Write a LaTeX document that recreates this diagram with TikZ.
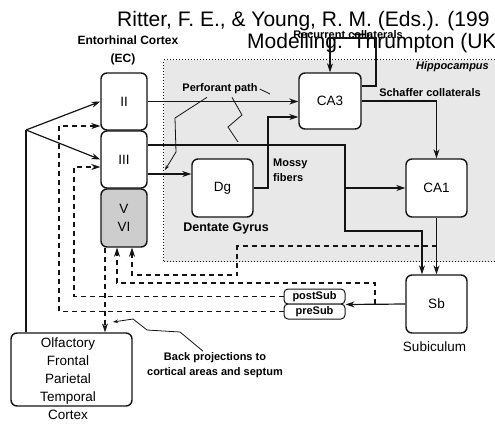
\documentclass[tikz,border=0pt]{standalone}
\usepackage{fontspec}
\setmainfont{Liberation Sans}
\usetikzlibrary{arrows.meta,positioning,calc}
\definecolor{inkgray}{RGB}{20,20,20}
\definecolor{hipgray}{RGB}{232,232,232}
\definecolor{layergray}{RGB}{205,205,205}
\tikzset{
  box/.style    ={rectangle, rounded corners=6pt, draw=inkgray, line width=1.4pt, fill=white,
                  inner sep=0pt, align=center, font=\fontsize{13.5}{18}\selectfont},
  ecbox/.style  ={box, minimum width=46pt, minimum height=57pt},
  hbox/.style   ={box, minimum width=61pt, minimum height=58pt},
  subbox/.style ={box, rounded corners=4pt, line width=1pt, minimum width=61pt,
                  minimum height=15pt, font=\bfseries\fontsize{11}{12}\selectfont},
  region/.style ={rectangle, draw=inkgray, dotted, line width=1pt, fill=hipgray, inner sep=0pt},
  flow/.style   ={-{Stealth[length=9pt,width=6pt]}, line width=1.2pt, draw=inkgray},
  wire/.style   ={line width=1.2pt, draw=inkgray},
  back/.style   ={-{Stealth[length=9pt,width=6pt]}, line width=1.2pt, draw=inkgray,
                  dash pattern=on 5pt off 4pt},
  pointer/.style={line width=0.8pt, draw=inkgray},
  lbl/.style    ={font=\bfseries\fontsize{11}{15}\selectfont, inner sep=1pt, align=center},
  tag/.style    ={font=\fontsize{13.5}{18}\selectfont, inner sep=0pt, align=center},
  titletxt/.style={font=\fontsize{21}{22}\selectfont, inner sep=0pt, anchor=base west}
}
\begin{document}
\begin{tikzpicture}[x=1pt, y=-1pt]
\useasboundingbox (0,0) rectangle (495,424);
\clip (0,0) rectangle (495,424);
% hippocampus area
\node[region, anchor=north west, minimum width=345pt, minimum height=202pt] (hip) at (163,59) {};
\node[lbl, font=\bfseries\itshape\fontsize{11}{13}\selectfont, anchor=east] (hiplbl) at (490,67) {Hippocampus};

\node[titletxt] (ttl1) at (117,26) {Ritter, F. E., \& Young, R. M. (Eds.). (199};
\node[titletxt] (ttl2) at (247,48) {Modelling.\hspace{10pt}Thrumpton (UK};

% entorhinal cortex
\node[lbl, font=\bfseries\fontsize{12}{14}\selectfont] (ec) at (128,40) {Entorhinal Cortex};
\node[lbl, font=\bfseries\fontsize{12}{14}\selectfont] (eclbl) at (123,59) {(EC)};
\node[ecbox] (ecII) at (124,101.5) {II};
\node[ecbox] (ecIII) at (124,159.5) {III};
\node[ecbox, minimum height=58pt, fill=layergray] (ecV) at (124,218) {V\\VI};

\node[hbox] (dg) at (222.5,188) {Dg};
\node[lbl, font=\bfseries\fontsize{12.5}{14}\selectfont] (dglbl) at (226,228) {Dentate Gyrus};
\node[hbox, minimum width=62pt, minimum height=56pt] (ca3) at (330,101) {CA3};
\node[hbox] (ca1) at (436.5,188) {CA1};
\node[hbox] (sb) at (436.5,304) {Sb};
\node[tag] (sblbl) at (434.5,347) {Subiculum};
\node[subbox] (post) at (314.5,296.5) {postSub};
\node[subbox] (pre) at (314.5,311.5) {preSub};

\node[box, minimum width=121pt, minimum height=73pt] (ctx) at (71.5,369.5) {};
\node[tag] (ctxtxt) at (68,379) {Olfactory\\Frontal\\Parietal\\Temporal\\Cortex};

% labels
\node[lbl] (pp) at (220,89) {Perforant path};
\node[lbl] (sc) at (430,93) {Schaffer collaterals};
\node[lbl] (rc) at (348,35) {Recurrent collaterals};
\node[lbl, align=left, anchor=west] (mf) at (272,170.5) {Mossy\\fibers};
\node[lbl] (bp) at (215,365) {Back projections to\\cortical areas and septum};

% bends
\coordinate (fan) at (26,130);
\coordinate (ppbend) at (345,145);
\coordinate (sbin) at (422,231);
\coordinate (dgin) at ($(dg.west)+(0,-14)$);
\coordinate (mossy) at (268,188);
\coordinate (recur) at (376,38);
\coordinate (sbback) at (375,283);
\coordinate (ca1back) at (237,246);
\coordinate (ca1low) at (132,275);
\coordinate (postback) at (74,167);
\coordinate (preback) at (59,126);
\coordinate (vdown) at ($(ecV.south)+(-19,0)$);
\coordinate (bptip) at (113,322);

% forward paths
\draw[wire] (fan |- ctx.north) -- (fan);
\draw[flow] (fan) -- (ecII.west);
\draw[flow] (fan) -- (ecIII.west);
\draw[flow] (ecII.east) -- (ca3.west |- ecII.east);
\draw[flow] (ecIII.east |- ppbend) -- (ppbend) |- (sbin) -- (sbin |- sb.north);
\draw[flow] (ppbend |- ca1.west) -- (ca1.west);
\draw[flow] (ecIII.east |- dgin) -- (dgin);
\draw[flow] (dg.east) -- (mossy) |- ($(ca3.west)+(0,16)$);
\draw[flow] (ca3.east) -| (ca1.north);
\draw[flow] ($(ca3.east)+(0,-15)$) -| (recur) -| (ca3.north);
\draw[flow] (ca1.south) -- (sb.north);
\draw[flow] (sb.west) -- (post.south east);

% back projections
\draw[back] (sbback |- sb.west) -- (sbback) -| ($(ecV.south)+(-7,0)$);
\draw[back] (ca1.south |- ca1back) -- (ca1back) |- (ca1low) -- (ca1low |- ecV.south);
\draw[back] (post.west) -| (postback) -- (ecIII.west |- postback);
\draw[back] (pre.west) -| (preback) -- (ecII.west |- preback);
\draw[back] (vdown) -- (vdown |- ctx.north);

% pointers
\draw[pointer, -{Stealth[length=5pt,width=3.5pt]}] ($(pp.south)+(-13,2)$) -- (175,118) -- (176,152) -- (165,170);
\draw[pointer] ($(pp.south)+(12,2)$) -- (242,115) -- (228,127) -- (238,142);
\draw[pointer] ($(pp.east)+(1,0)$) -- (270,94);
\draw[pointer, -{Stealth[length=5pt,width=3.5pt]}] ($(bp.north)+(-12,0)$) -- (180,332) -- (147,330) -- (133,319) -- (bptip);
\end{tikzpicture}
\end{document}
